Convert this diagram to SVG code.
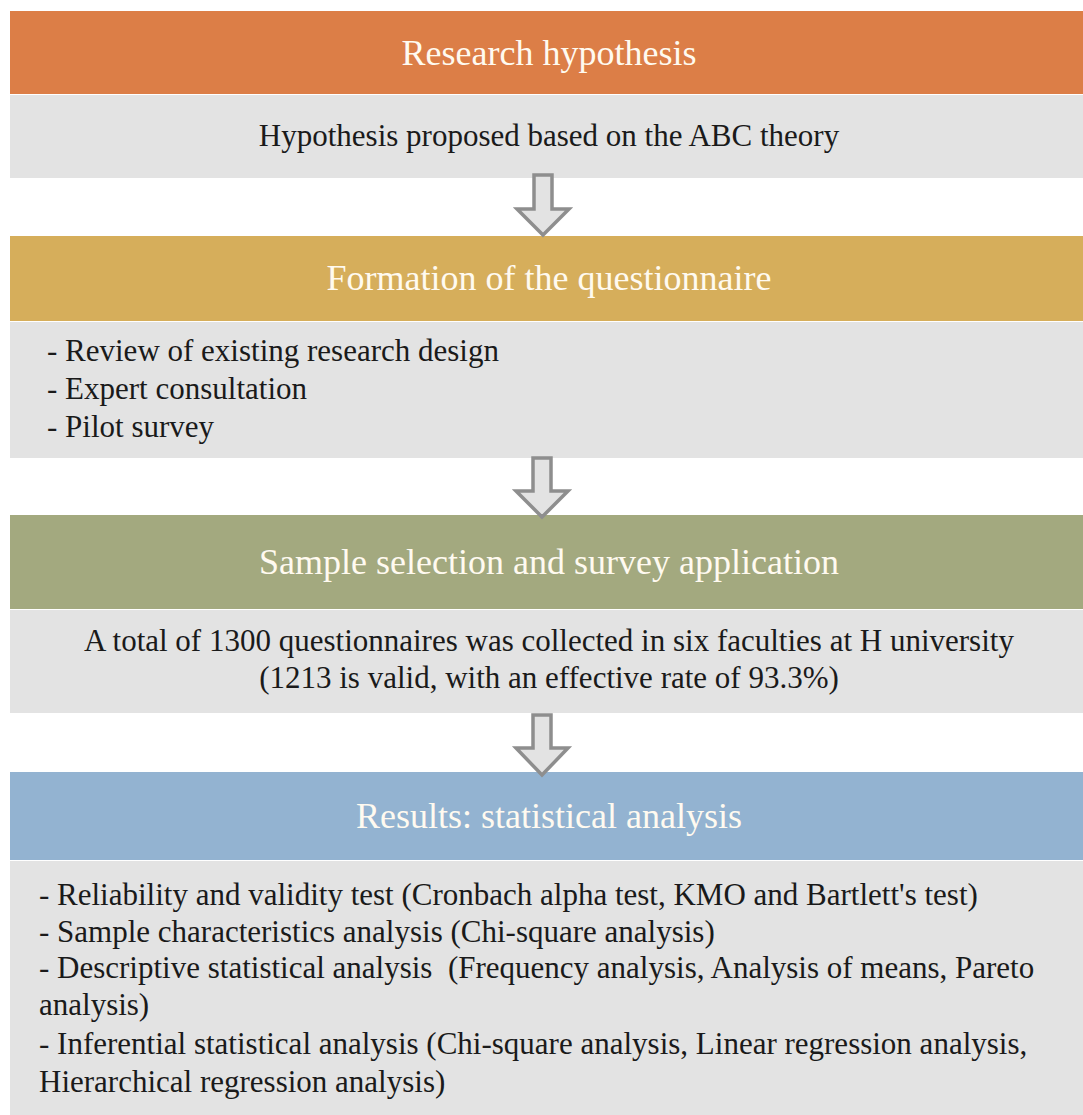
<svg xmlns="http://www.w3.org/2000/svg" width="1083" height="1115" viewBox="0 0 1083 1115">
  <style>
    .hdr { font-family: 'Liberation Serif', 'DejaVu Serif', serif; font-size: 36px; fill: #fffaf0; text-anchor: middle; }
    .txt { font-family: 'Liberation Serif', 'DejaVu Serif', serif; font-size: 31px; fill: #1a1a1a; }
    .ctr { text-anchor: middle; }
    .body { fill: #e3e3e3; }
    .arrow { fill: #e3e3e3; stroke: #8e8e8e; stroke-width: 3.5; stroke-linejoin: miter; }
  </style>
  <rect width="1083" height="1115" fill="#ffffff"/>

  <g id="step-hypothesis">
    <rect x="10" y="11" width="1073" height="83" fill="#dc7e47"/>
    <rect class="body" x="10" y="95" width="1073" height="83"/>
    <text class="hdr" x="549" y="65">Research hypothesis</text>
    <text class="txt ctr" x="549" y="146">Hypothesis proposed based on the ABC theory</text>
  </g>

  <g id="step-questionnaire">
    <rect x="10" y="236" width="1073" height="85" fill="#d6ae5b"/>
    <rect class="body" x="10" y="322" width="1073" height="136"/>
    <text class="hdr" x="549" y="290">Formation of the questionnaire</text>
    <text class="txt" x="47" y="361">- Review of existing research design</text>
    <text class="txt" x="47" y="399">- Expert consultation</text>
    <text class="txt" x="47" y="437">- Pilot survey</text>
  </g>

  <g id="step-sample">
    <rect x="10" y="515" width="1073" height="94" fill="#a3a97f"/>
    <rect class="body" x="10" y="610" width="1073" height="103"/>
    <text class="hdr" x="549" y="574">Sample selection and survey application</text>
    <text class="txt ctr" x="549" y="651">A total of 1300 questionnaires was collected in six faculties at H university</text>
    <text class="txt ctr" x="549" y="688">(1213 is valid, with an effective rate of 93.3%)</text>
  </g>

  <g id="step-results">
    <rect x="10" y="772" width="1073" height="88" fill="#93b3d1"/>
    <rect class="body" x="10" y="861" width="1073" height="254"/>
    <text class="hdr" x="549" y="828">Results: statistical analysis</text>
    <text class="txt" x="39" y="905">- Reliability and validity test (Cronbach alpha test, KMO and Bartlett's test)</text>
    <text class="txt" x="39" y="942">- Sample characteristics analysis (Chi-square analysis)</text>
    <text class="txt" x="39" y="978" xml:space="preserve">- Descriptive statistical analysis  (Frequency analysis, Analysis of means, Pareto</text>
    <text class="txt" x="39" y="1015">analysis)</text>
    <text class="txt" x="39" y="1054">- Inferential statistical analysis (Chi-square analysis, Linear regression analysis,</text>
    <text class="txt" x="39" y="1092">Hierarchical regression analysis)</text>
  </g>

  <g id="connectors">
    <path class="arrow" d="M534,175 H552 V209 H569 L543,235 L517,209 H534 Z"/>
    <path class="arrow" d="M533,458 H551 V491 H568 L542,517 L516,491 H533 Z"/>
    <path class="arrow" d="M533,715 H551 V748 H568 L542,775 L516,748 H533 Z"/>
  </g>
</svg>
